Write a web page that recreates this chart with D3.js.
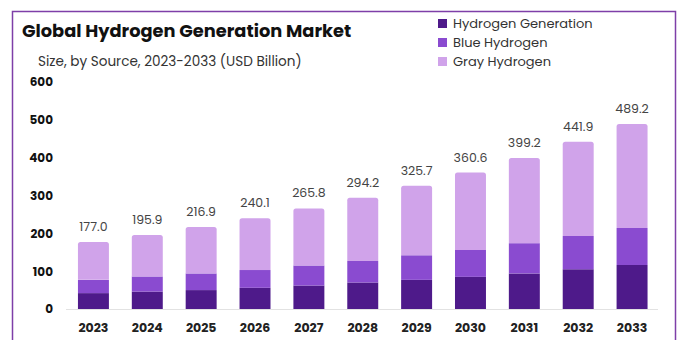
<!DOCTYPE html>
<html><head><meta charset="utf-8">
<script src="https://cdn.jsdelivr.net/npm/d3@7"></script>
<style>body{margin:0;background:#fff}svg{display:block}</style>
</head><body><svg id="c" width="678" height="340"></svg>
<script>
const years = ["2023","2024","2025","2026","2027","2028","2029","2030","2031","2032","2033"];
const hydrogenGeneration = [42,46,50,56,62,70,77,85,94,105,116];
const blueHydrogen = [35,40,44,47,53,57,65,71,80,88,98];
const grayHydrogen = [100,109.9,122.9,137.1,150.8,167.2,183.7,204.6,225.2,248.9,275.2];
const totals = ["177.0","195.9","216.9","240.1","265.8","294.2","325.7","360.6","399.2","441.9","489.2"];
const yTicks = [0,100,200,300,400,500,600];
const seriesNames = ["Hydrogen Generation","Blue Hydrogen","Gray Hydrogen"];
const colors = ["#4e1a8a","#8a4bd0","#d0a3ea"];

const svg = d3.select("#c");
const font = "Poppins, 'Open Sans', sans-serif";

svg.append("rect").attr("x",12.5).attr("y",11.5).attr("width",663).attr("height",340)
  .attr("fill","none").attr("stroke","#7e3fa8").attr("stroke-width",1.5);

svg.append("text").attr("x",22).attr("y",37).text("Global Hydrogen Generation Market")
  .attr("font-family",font).attr("font-weight",700).attr("font-size",17.8).attr("fill","#111");
svg.append("text").attr("x",38).attr("y",66).text("Size, by Source, 2023-2033 (USD Billion)")
  .attr("font-family",font).attr("font-size",13.6).attr("fill","#333");

const data = years.map((y,i)=>({year:y,"Hydrogen Generation":hydrogenGeneration[i],"Blue Hydrogen":blueHydrogen[i],"Gray Hydrogen":grayHydrogen[i],total:totals[i]}));
const stack = d3.stack().keys(seriesNames)(data);

const x = d3.scaleBand().domain(years).range([66.5,659]).paddingInner(0.425).paddingOuter(0.2125);
const y = d3.scaleLinear().domain([0,600]).range([309,82]);

const yAxis = svg.append("g").attr("transform","translate(53,0)")
  .call(d3.axisLeft(y).tickValues(yTicks).tickSize(0).tickPadding(0));
yAxis.select(".domain").remove();
yAxis.selectAll("text").attr("font-family",font).attr("font-weight",700).attr("font-size",12).attr("fill","#111");

svg.append("line").attr("x1",66).attr("x2",658).attr("y1",y(0)+0.5).attr("y2",y(0)+0.5)
  .attr("stroke","#e2e2e2").attr("stroke-width",1);

const g = svg.append("g");
stack.forEach((s,si)=>{
  g.selectAll(null).data(s).enter().append("path")
    .attr("fill",colors[si])
    .attr("d",d=>{
      const x0=x(d.data.year), w=x.bandwidth(), top=y(d[1]), bot=y(d[0]);
      if(si===2){
        const r=2.5;
        return `M${x0},${bot}V${top+r}Q${x0},${top} ${x0+r},${top}H${x0+w-r}Q${x0+w},${top} ${x0+w},${top+r}V${bot}Z`;
      }
      return `M${x0},${bot}V${top}H${x0+w}V${bot}Z`;
    });
});

svg.append("g").selectAll("text").data(stack[2]).enter().append("text")
  .attr("x",d=>x(d.data.year)+x.bandwidth()/2).attr("y",d=>y(d[1])-11)
  .attr("text-anchor","middle").attr("font-family",font).attr("font-size",12.5).attr("fill","#444")
  .text(d=>d.data.total);

const xAxis = svg.append("g").attr("transform",`translate(0,${y(0)})`)
  .call(d3.axisBottom(x).tickSize(0).tickPadding(14));
xAxis.select(".domain").remove();
xAxis.selectAll("text").attr("font-family",font).attr("font-weight",700).attr("font-size",12.5).attr("fill","#222");

const leg = svg.append("g");
seriesNames.forEach((n,i)=>{
  leg.append("rect").attr("x",438).attr("y",19+i*19).attr("width",9).attr("height",9).attr("fill",colors[i]);
  leg.append("text").attr("x",453).attr("y",28+i*19).text(n)
    .attr("font-family",font).attr("font-size",13).attr("fill","#333");
});
</script></body></html>
